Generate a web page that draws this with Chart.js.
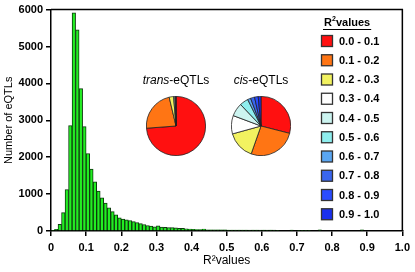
<!DOCTYPE html>
<html>
<head>
<meta charset="utf-8">
<script src="https://cdn.jsdelivr.net/npm/chart.js@4"></script>
<style>
  html, body { margin: 0; padding: 0; background: #fff; }
  #wrap { position: relative; width: 415px; height: 272px; }
  #main { position: absolute; left: 0; top: 0; }
  .pie { position: absolute; }
  .pieTitle { position: absolute; width: 90px; text-align: center; font: 12px Arial, "Liberation Sans", sans-serif; color: #000; }
</style>
</head>
<body>
<div id="wrap">
  <canvas id="main" width="415" height="272"></canvas>
  <div class="pieTitle" style="left:131px; top:73px;"><i>trans</i>-eQTLs</div>
  <div class="pieTitle" style="left:216px; top:73px;"><i>cis</i>-eQTLs</div>
  <div class="pie" style="left:146px; top:96px; width:60px; height:60px;"><canvas id="transPie"></canvas></div>
  <div class="pie" style="left:231px; top:96px; width:60px; height:60px;"><canvas id="cisPie"></canvas></div>
</div>
<script>
// histogram: eQTL counts per R² bin of 0.01 (bin start 0.00 .. 0.99)
const binWidth = 0.01;
const counts = [
  20, 45, 180, 500, 1125, 2860, 5910, 5450, 3860, 2830,
  2100, 1680, 1330, 1080, 900, 760, 630, 525, 440, 360,
  320, 300, 285, 255, 225, 200, 175, 150, 130, 110,
  140, 105, 100, 95, 90, 85, 75, 70, 60, 55,
  45, 40, 40, 55, 35, 35, 30, 30, 30, 30,
  28, 25, 25, 28, 25, 25, 22, 25, 25, 22,
  25, 22, 25, 22, 20, 0, 0, 0, 25, 0,
  20, 20, 20, 20, 0, 0, 30, 0, 0, 0,
  0, 0, 0, 0, 0, 0, 0, 0, 30, 0,
  0, 0, 0, 0, 0, 0, 0, 0, 0, 0
];
const xTicks = [0, 0.1, 0.2, 0.3, 0.4, 0.5, 0.6, 0.7, 0.8, 0.9, 1.0];
const yTicks = [0, 1000, 2000, 3000, 4000, 5000, 6000];

// pie shares per R² class
const classLabels = ["0.0 - 0.1", "0.1 - 0.2", "0.2 - 0.3", "0.3 - 0.4", "0.4 - 0.5",
                     "0.5 - 0.6", "0.6 - 0.7", "0.7 - 0.8", "0.8 - 0.9", "0.9 - 1.0"];
const classColors = ["#ff1010", "#ff7514", "#f2f260", "#ffffff", "#ccf4f0",
                     "#8eeeee", "#5aa6f2", "#3a66ee", "#2a4cff", "#1a30ee"];
const transShares = [0.738, 0.225, 0.024, 0.007, 0.003, 0.002, 0.001, 0, 0, 0];
const cisShares = [0.29, 0.264, 0.153, 0.10, 0.072, 0.047, 0.017, 0.022, 0.02, 0.015];

const FONT = 'Arial, "Liberation Sans", sans-serif';

const histData = counts.map((c, i) => ({ x: +(i * binWidth + binWidth / 2).toFixed(3), y: c > 0 ? c : null }));

// frame (top + right) and legend drawn on the main chart
const framePlugin = {
  id: "frame",
  afterDraw(chart) {
    const { ctx, chartArea: a } = chart;
    ctx.save();
    ctx.strokeStyle = "#000";
    ctx.lineWidth = 1.5;
    ctx.beginPath();
    ctx.moveTo(a.left, a.top);
    ctx.lineTo(a.right, a.top);
    ctx.lineTo(a.right, a.bottom);
    ctx.stroke();

    // legend
    ctx.fillStyle = "#000";
    ctx.font = "bold 11px " + FONT;
    ctx.textBaseline = "middle";
    ctx.textAlign = "left";
    const tx = 324;
    ctx.fillText("R", tx, 23);
    const rw = ctx.measureText("R").width;
    ctx.font = "bold 7px " + FONT;
    ctx.fillText("2", tx + rw, 19);
    ctx.font = "bold 11px " + FONT;
    ctx.fillText("values", tx + rw + 4, 23);
    const tw = rw + 4 + ctx.measureText("values").width;
    ctx.lineWidth = 1;
    ctx.beginPath();
    ctx.moveTo(tx - 1, 29.5);
    ctx.lineTo(tx + tw + 1, 29.5);
    ctx.stroke();

    classLabels.forEach((lab, i) => {
      const y = 41 + i * 19.25;
      ctx.fillStyle = classColors[i];
      ctx.fillRect(321.5, y - 5.5, 11, 11);
      ctx.strokeStyle = "#333";
      ctx.lineWidth = 1.3;
      ctx.strokeRect(321.5, y - 5.5, 11, 11);
      ctx.fillStyle = "#000";
      ctx.fillText(lab, 339, y + 0.5);
    });
    ctx.restore();
  }
};

new Chart(document.getElementById("main"), {
  type: "bar",
  data: {
    datasets: [{
      data: histData,
      backgroundColor: "#22ee22",
      borderColor: "#0d3a0d",
      borderWidth: 1,
      borderSkipped: "start",
      barPercentage: 1,
      categoryPercentage: 1
    }]
  },
  options: {
    responsive: false,
    animation: false,
    layout: { padding: { top: 5, right: 8, left: 0, bottom: 0 } },
    plugins: { legend: { display: false }, tooltip: { enabled: false } },
    scales: {
      x: {
        type: "linear",
        min: 0,
        max: 1,
        offset: false,
        afterBuildTicks: (s) => { s.ticks = xTicks.map(v => ({ value: v })); },
        afterFit: (s) => { s.height = 41; },
        ticks: {
          color: "#000",
          font: { family: FONT, size: 11, weight: "bold" },
          padding: 5,
          maxRotation: 0,
          callback: (v) => (v === 0 ? "0" : v.toFixed(1))
        },
        grid: { offset: false, drawOnChartArea: false, drawTicks: true, tickLength: 5, color: "#000", lineWidth: 1.5 },
        border: { color: "#000", width: 1.5 },
        title: {
          display: true,
          text: "R²values",
          color: "#000",
          font: { family: FONT, size: 12 },
          padding: { top: 0, bottom: 4 }
        }
      },
      y: {
        min: 0,
        max: 6000,
        afterBuildTicks: (s) => { s.ticks = yTicks.map(v => ({ value: v })); },
        afterFit: (s) => { s.width = 51; },
        ticks: {
          color: "#000",
          font: { family: FONT, size: 11, weight: "bold" },
          padding: 3,
          callback: (v) => String(v)
        },
        grid: { drawOnChartArea: false, drawTicks: true, tickLength: 5, color: "#000", lineWidth: 1.5 },
        border: { color: "#000", width: 1.5 },
        title: {
          display: true,
          text: "Number of eQTLs",
          color: "#000",
          font: { family: FONT, size: 11 },
          padding: { top: 2, bottom: 0 }
        }
      }
    }
  },
  plugins: [framePlugin]
});

function makePie(id, shares) {
  new Chart(document.getElementById(id), {
    type: "pie",
    data: {
      labels: classLabels,
      datasets: [{
        data: shares,
        backgroundColor: classColors,
        borderColor: "#222",
        borderWidth: 0.8
      }]
    },
    options: {
      responsive: true,
      maintainAspectRatio: false,
      animation: false,
      layout: { padding: 0 },
      plugins: { legend: { display: false }, tooltip: { enabled: false } }
    }
  });
}
makePie("transPie", transShares);
makePie("cisPie", cisShares);
</script>
</body>
</html>
